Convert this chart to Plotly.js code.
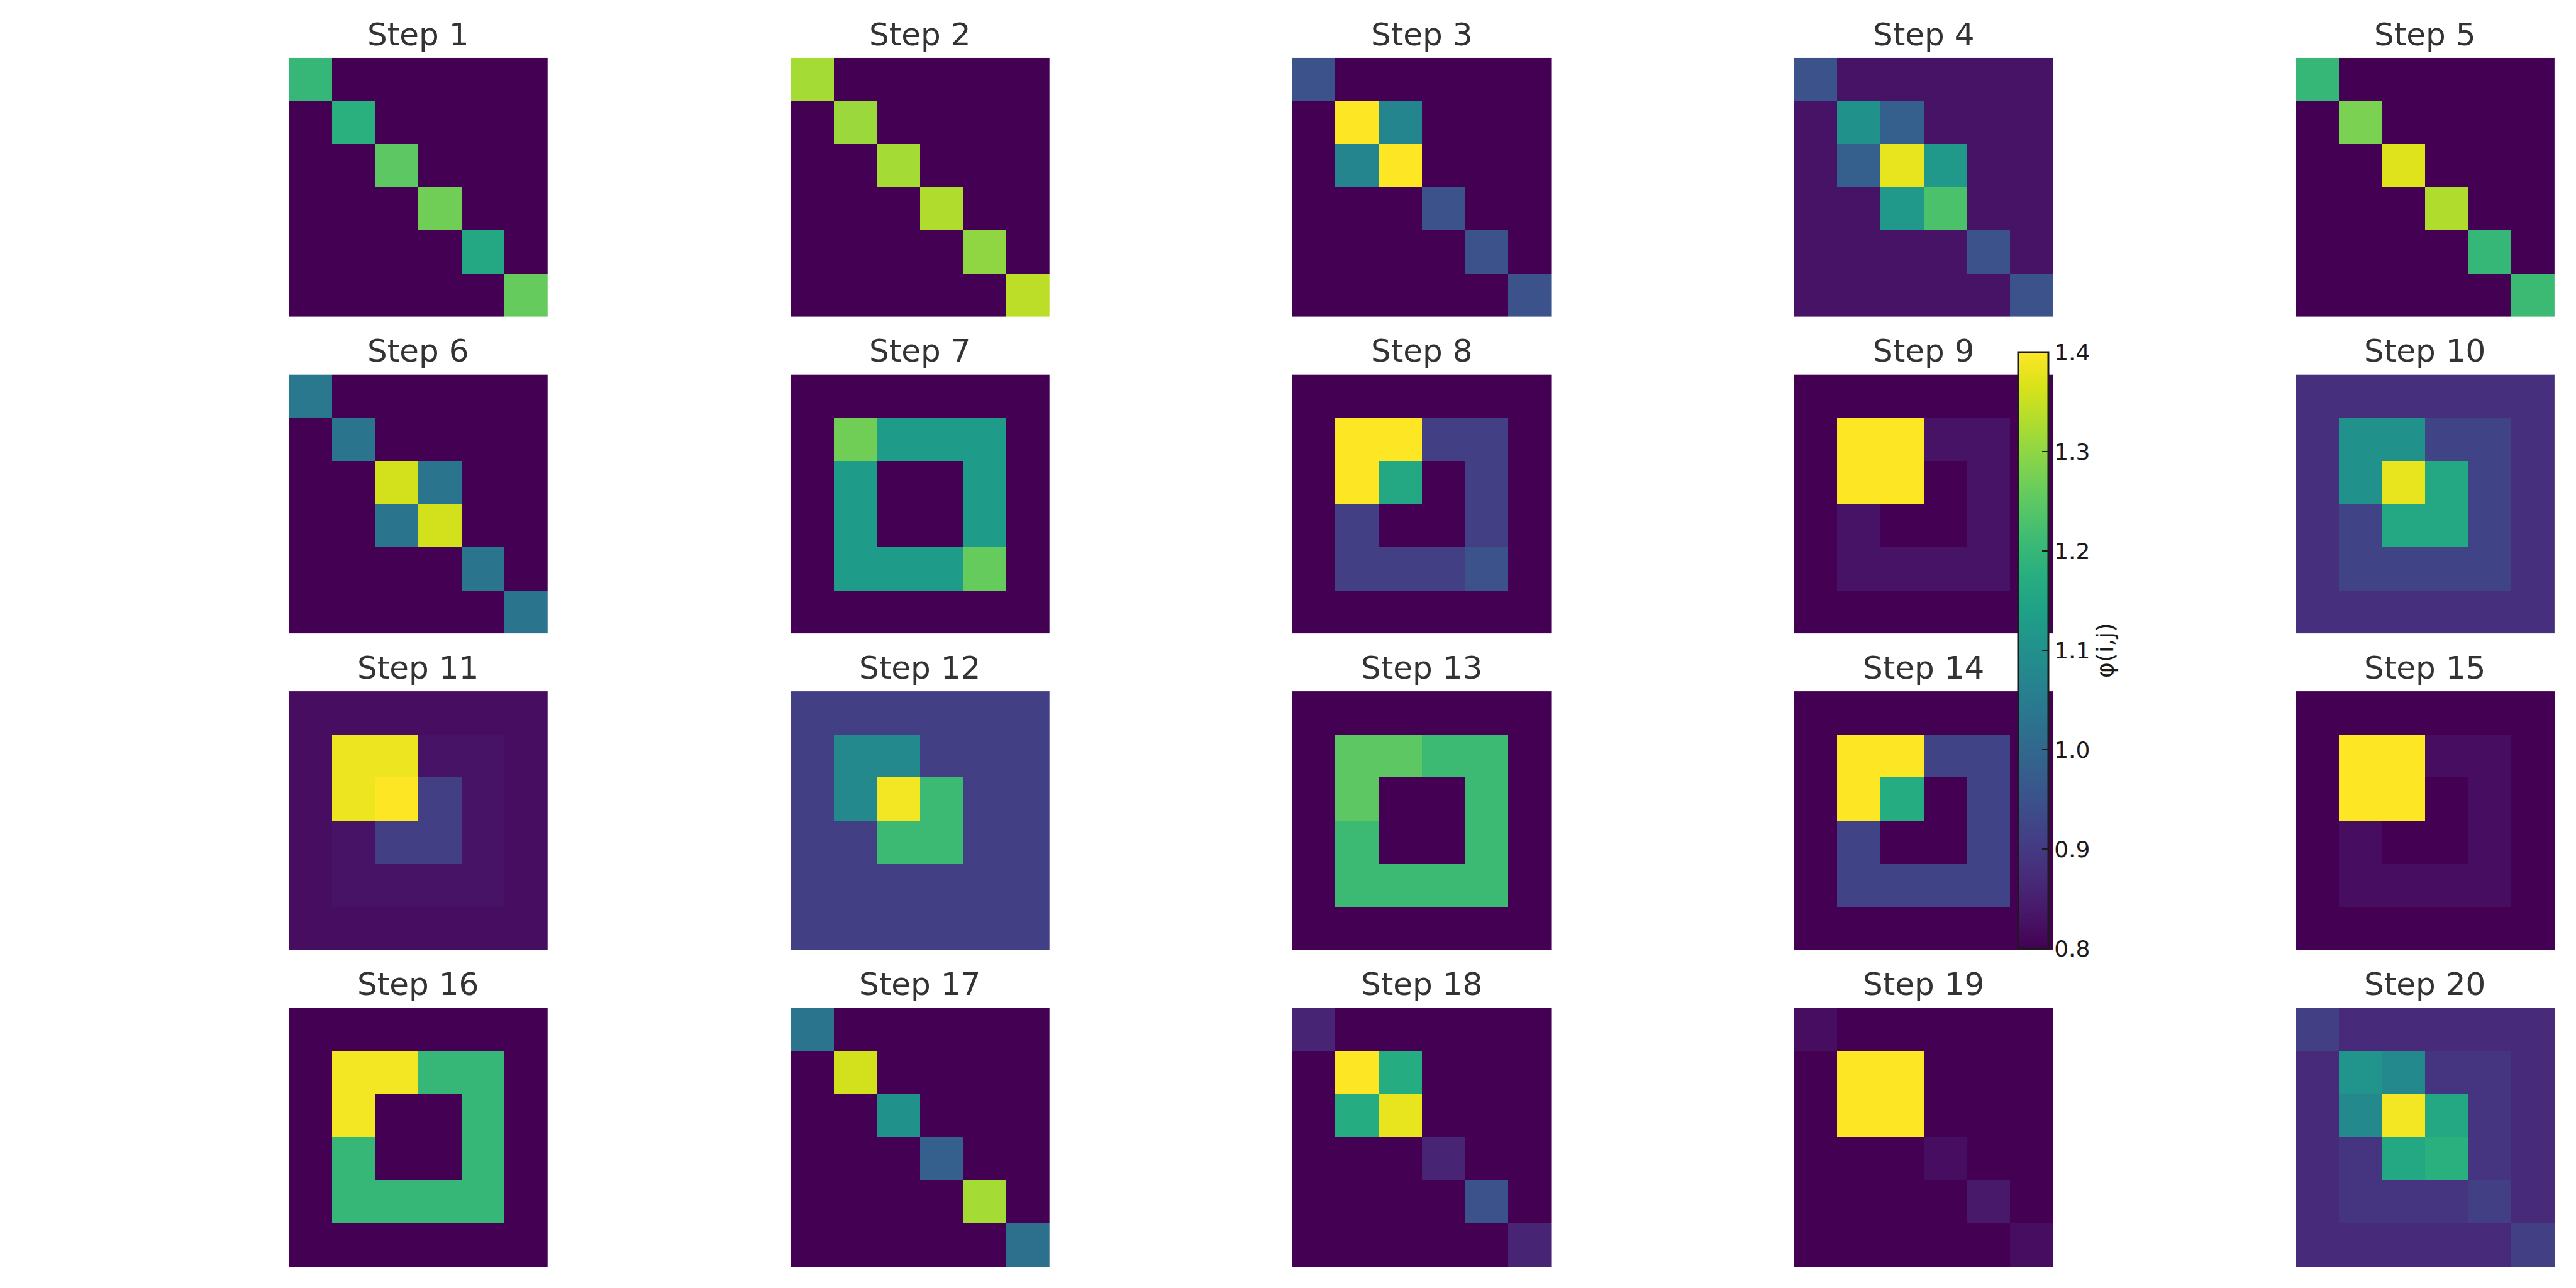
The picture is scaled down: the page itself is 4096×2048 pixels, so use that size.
<!DOCTYPE html>
<html>
<head>
<meta charset="utf-8">
<script src="https://cdn.plot.ly/plotly-3.0.1.min.js"></script>
<style>html,body{margin:0;padding:0;background:#fff;}#chart{width:4096px;height:2048px;}</style>
</head>
<body>
<div id="chart"></div>
<script>
// ---- data: phi(i,j) for each step (6x6, row 0 at top) ----
const step1 = [[1.20,0.80,0.80,0.80,0.80,0.80],[0.80,1.18,0.80,0.80,0.80,0.80],[0.80,0.80,1.25,0.80,0.80,0.80],[0.80,0.80,0.80,1.27,0.80,0.80],[0.80,0.80,0.80,0.80,1.16,0.80],[0.80,0.80,0.80,0.80,0.80,1.26]];
const step2 = [[1.32,0.80,0.80,0.80,0.80,0.80],[0.80,1.31,0.80,0.80,0.80,0.80],[0.80,0.80,1.32,0.80,0.80,0.80],[0.80,0.80,0.80,1.33,0.80,0.80],[0.80,0.80,0.80,0.80,1.30,0.80],[0.80,0.80,0.80,0.80,0.80,1.34]];
const step3 = [[0.95,0.80,0.80,0.80,0.80,0.80],[0.80,1.40,1.07,0.80,0.80,0.80],[0.80,1.07,1.40,0.80,0.80,0.80],[0.80,0.80,0.80,0.95,0.80,0.80],[0.80,0.80,0.80,0.80,0.95,0.80],[0.80,0.80,0.80,0.80,0.80,0.95]];
const step4 = [[0.95,0.83,0.83,0.83,0.83,0.83],[0.83,1.10,0.98,0.83,0.83,0.83],[0.83,0.98,1.38,1.12,0.83,0.83],[0.83,0.83,1.12,1.23,0.83,0.83],[0.83,0.83,0.83,0.83,0.95,0.83],[0.83,0.83,0.83,0.83,0.83,0.95]];
const step5 = [[1.20,0.80,0.80,0.80,0.80,0.80],[0.80,1.28,0.80,0.80,0.80,0.80],[0.80,0.80,1.37,0.80,0.80,0.80],[0.80,0.80,0.80,1.33,0.80,0.80],[0.80,0.80,0.80,0.80,1.20,0.80],[0.80,0.80,0.80,0.80,0.80,1.21]];
const step6 = [[1.04,0.80,0.80,0.80,0.80,0.80],[0.80,1.03,0.80,0.80,0.80,0.80],[0.80,0.80,1.36,1.03,0.80,0.80],[0.80,0.80,1.03,1.36,0.80,0.80],[0.80,0.80,0.80,0.80,1.03,0.80],[0.80,0.80,0.80,0.80,0.80,1.03]];
const step7 = [[0.80,0.80,0.80,0.80,0.80,0.80],[0.80,1.27,1.13,1.13,1.13,0.80],[0.80,1.13,0.80,0.80,1.13,0.80],[0.80,1.13,0.80,0.80,1.13,0.80],[0.80,1.13,1.13,1.13,1.26,0.80],[0.80,0.80,0.80,0.80,0.80,0.80]];
const step8 = [[0.80,0.80,0.80,0.80,0.80,0.80],[0.80,1.40,1.40,0.91,0.91,0.80],[0.80,1.40,1.16,0.80,0.91,0.80],[0.80,0.91,0.80,0.80,0.91,0.80],[0.80,0.91,0.91,0.91,0.95,0.80],[0.80,0.80,0.80,0.80,0.80,0.80]];
const step9 = [[0.80,0.80,0.80,0.80,0.80,0.80],[0.80,1.40,1.40,0.83,0.83,0.80],[0.80,1.40,1.40,0.80,0.83,0.80],[0.80,0.83,0.80,0.80,0.83,0.80],[0.80,0.83,0.83,0.83,0.83,0.80],[0.80,0.80,0.80,0.80,0.80,0.80]];
const step10 = [[0.88,0.88,0.88,0.88,0.88,0.88],[0.88,1.10,1.10,0.92,0.92,0.88],[0.88,1.10,1.38,1.16,0.92,0.88],[0.88,0.92,1.16,1.16,0.92,0.88],[0.88,0.92,0.92,0.92,0.92,0.88],[0.88,0.88,0.88,0.88,0.88,0.88]];
const step11 = [[0.82,0.82,0.82,0.82,0.82,0.82],[0.82,1.385,1.385,0.83,0.83,0.82],[0.82,1.385,1.40,0.91,0.83,0.82],[0.82,0.83,0.91,0.91,0.83,0.82],[0.82,0.83,0.83,0.83,0.83,0.82],[0.82,0.82,0.82,0.82,0.82,0.82]];
const step12 = [[0.91,0.91,0.91,0.91,0.91,0.91],[0.91,1.08,1.08,0.91,0.91,0.91],[0.91,1.08,1.39,1.21,0.91,0.91],[0.91,0.91,1.21,1.21,0.91,0.91],[0.91,0.91,0.91,0.91,0.91,0.91],[0.91,0.91,0.91,0.91,0.91,0.91]];
const step13 = [[0.80,0.80,0.80,0.80,0.80,0.80],[0.80,1.25,1.25,1.21,1.21,0.80],[0.80,1.25,0.80,0.80,1.21,0.80],[0.80,1.21,0.80,0.80,1.21,0.80],[0.80,1.21,1.21,1.21,1.21,0.80],[0.80,0.80,0.80,0.80,0.80,0.80]];
const step14 = [[0.80,0.80,0.80,0.80,0.80,0.80],[0.80,1.40,1.40,0.92,0.92,0.80],[0.80,1.40,1.17,0.80,0.92,0.80],[0.80,0.92,0.80,0.80,0.92,0.80],[0.80,0.92,0.92,0.92,0.92,0.80],[0.80,0.80,0.80,0.80,0.80,0.80]];
const step15 = [[0.80,0.80,0.80,0.80,0.80,0.80],[0.80,1.40,1.40,0.82,0.82,0.80],[0.80,1.40,1.40,0.80,0.82,0.80],[0.80,0.82,0.80,0.80,0.82,0.80],[0.80,0.82,0.82,0.82,0.82,0.80],[0.80,0.80,0.80,0.80,0.80,0.80]];
const step16 = [[0.80,0.80,0.80,0.80,0.80,0.80],[0.80,1.39,1.39,1.20,1.20,0.80],[0.80,1.39,0.80,0.80,1.20,0.80],[0.80,1.20,0.80,0.80,1.20,0.80],[0.80,1.20,1.20,1.20,1.20,0.80],[0.80,0.80,0.80,0.80,0.80,0.80]];
const step17 = [[1.03,0.80,0.80,0.80,0.80,0.80],[0.80,1.36,0.80,0.80,0.80,0.80],[0.80,0.80,1.10,0.80,0.80,0.80],[0.80,0.80,0.80,0.98,0.80,0.80],[0.80,0.80,0.80,0.80,1.32,0.80],[0.80,0.80,0.80,0.80,0.80,1.02]];
const step18 = [[0.86,0.80,0.80,0.80,0.80,0.80],[0.80,1.40,1.17,0.80,0.80,0.80],[0.80,1.17,1.38,0.80,0.80,0.80],[0.80,0.80,0.80,0.86,0.80,0.80],[0.80,0.80,0.80,0.80,0.95,0.80],[0.80,0.80,0.80,0.80,0.80,0.86]];
const step19 = [[0.82,0.80,0.80,0.80,0.80,0.80],[0.80,1.40,1.40,0.80,0.80,0.80],[0.80,1.40,1.40,0.80,0.80,0.80],[0.80,0.80,0.80,0.82,0.80,0.80],[0.80,0.80,0.80,0.80,0.84,0.80],[0.80,0.80,0.80,0.80,0.80,0.82]];
const step20 = [[0.91,0.87,0.87,0.87,0.87,0.87],[0.87,1.11,1.08,0.89,0.89,0.87],[0.87,1.08,1.39,1.16,0.89,0.87],[0.87,0.89,1.16,1.18,0.89,0.87],[0.87,0.89,0.89,0.89,0.91,0.87],[0.87,0.87,0.87,0.87,0.87,0.91]];

const steps = [step1,step2,step3,step4,step5,step6,step7,step8,step9,step10,step11,step12,step13,step14,step15,step16,step17,step18,step19,step20];
const stepTitles = steps.map((_, i) => 'Step ' + (i + 1));
const cbTickVals = [0.8, 0.9, 1.0, 1.1, 1.2, 1.3, 1.4];
const cbTickText = ['0.8', '0.9', '1.0', '1.1', '1.2', '1.3', '1.4'];
const cbTitle = 'φ(i,j)';

// ---- layout geometry (paper fractions) ----
const colX = [0.11204, 0.30686, 0.50166, 0.69648, 0.89111];
const panelW = 0.10056;
const rowTop = [0.95518, 0.70928, 0.46333, 0.21777];
const panelH = 0.20112;

const data = [];
const layout = {
  width: 4096, height: 2048,
  margin: {l: 0, r: 0, t: 0, b: 0},
  paper_bgcolor: '#ffffff', plot_bgcolor: '#ffffff',
  font: {family: 'DejaVu Sans', color: '#222222'},
  showlegend: false,
  annotations: [],
  coloraxis: {
    cmin: 0.8, cmax: 1.4,
    colorscale: 'Viridis',
    colorbar: {
      x: 0.7835, xanchor: 'left', xref: 'paper',
      y: 0.4951, yanchor: 'middle', yref: 'paper',
      len: 0.4629, lenmode: 'fraction',
      thickness: 48, thicknessmode: 'pixels',
      xpad: 0, ypad: 0,
      outlinewidth: 3, outlinecolor: '#1a1a1a',
      ticks: 'inside', ticklen: 11, tickwidth: 2, tickcolor: '#1a1a1a',
      tickvals: cbTickVals, ticktext: cbTickText,
      tickfont: {family: 'DejaVu Sans', size: 36, color: '#1a1a1a'},
      title: {text: cbTitle, side: 'right', font: {family: 'DejaVu Sans', size: 38, color: '#1a1a1a'}}
    }
  }
};

steps.forEach((z, i) => {
  const r = Math.floor(i / 5), c = i % 5;
  const n = i + 1;
  const xa = n === 1 ? 'x' : 'x' + n;
  const ya = n === 1 ? 'y' : 'y' + n;
  data.push({
    type: 'heatmap', z: z, coloraxis: 'coloraxis',
    xaxis: xa, yaxis: ya, hoverinfo: 'skip', xgap: 0, ygap: 0
  });
  const xd = [colX[c], colX[c] + panelW];
  const yd = [rowTop[r] - panelH, rowTop[r]];
  layout[n === 1 ? 'xaxis' : 'xaxis' + n] = {
    domain: xd, range: [-0.5, 5.5], visible: false, fixedrange: true, anchor: ya
  };
  layout[n === 1 ? 'yaxis' : 'yaxis' + n] = {
    domain: yd, range: [5.5, -0.5], visible: false, fixedrange: true, anchor: xa
  };
  layout.annotations.push({
    text: stepTitles[i], xref: 'paper', yref: 'paper',
    x: xd[0] + panelW / 2, y: yd[1], xanchor: 'center', yanchor: 'bottom',
    yshift: 6, showarrow: false,
    font: {family: 'DejaVu Sans', size: 50, color: '#333333'}
  });
});

Plotly.newPlot('chart', data, layout, {displayModeBar: false, staticPlot: true});
</script>
</body>
</html>
